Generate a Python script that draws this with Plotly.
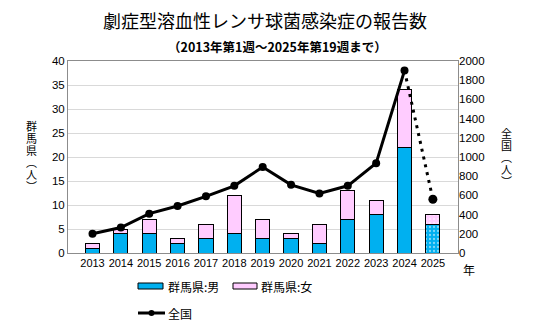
import plotly.graph_objects as go

years = ["2013", "2014", "2015", "2016", "2017", "2018", "2019",
         "2020", "2021", "2022", "2023", "2024", "2025"]
gunma_male = [1, 4, 4, 2, 3, 4, 3, 3, 2, 7, 8, 22, 6]
gunma_female = [1, 1, 3, 1, 3, 8, 4, 1, 4, 6, 3, 12, 2]
national = [200, 265, 410, 490, 590, 700, 895, 710, 620, 700, 935, 1900, 560]

title = "劇症型溶血性レンサ球菌感染症の報告数"
subtitle = "（2013年第1週～2025年第19週まで）"
left_title = ["群", "馬", "県", "︵", "人", "︶"]
right_title = ["全", "国", "︵", "人", "︶"]
legend_labels = ["群馬県:男", "群馬県:女", "全国"]

W, H = 538, 336
L, R, T, B = 68, 458, 61, 253

BLUE = "#00B0F0"
PINK = "#FFCCFF"
JP = "Noto Sans CJK JP"
NUM = "Liberation Sans"

pat = ["" for _ in years[:-1]] + ["."]

fig = go.Figure()
fig.add_trace(go.Bar(
    x=years, y=gunma_male, name=legend_labels[0], yaxis="y",
    marker=dict(color=BLUE, line=dict(color="black", width=1),
                pattern=dict(shape=pat, fgcolor="white", size=4, solidity=0.25)),
    width=0.5, showlegend=False))
fig.add_trace(go.Bar(
    x=years, y=gunma_female, name=legend_labels[1], yaxis="y",
    marker=dict(color=PINK, line=dict(color="black", width=1),
                pattern=dict(shape=pat, fgcolor="white", size=4, solidity=0.25)),
    width=0.5, showlegend=False))
fig.add_trace(go.Scatter(
    x=years[-2:], y=national[-2:], yaxis="y2", mode="lines",
    line=dict(color="black", width=3, dash="3px,5px"), showlegend=False))
fig.add_trace(go.Scatter(
    x=years[:-1], y=national[:-1], yaxis="y2", mode="lines+markers",
    line=dict(color="black", width=3), marker=dict(size=8, color="black"),
    showlegend=False))
fig.add_trace(go.Scatter(
    x=years[-1:], y=national[-1:], yaxis="y2", mode="markers",
    marker=dict(size=9, color="black"), showlegend=False))

fig.update_layout(
    width=W, height=H, barmode="stack",
    margin=dict(l=L, r=W - R, t=T, b=H - B),
    paper_bgcolor="white", plot_bgcolor="white",
    font=dict(family=NUM, size=11, color="black"),
    xaxis=dict(type="category", showline=True, linecolor="#8c8c8c", mirror=True,
               ticks="", tickfont=dict(size=11, family=NUM)),
    yaxis=dict(range=[0, 40], dtick=5, showgrid=True, gridcolor="#d9d9d9",
               showline=True, linecolor="#8c8c8c", mirror=True, zeroline=False,
               ticks="", tickfont=dict(size=11.5, family=NUM)),
    yaxis2=dict(range=[0, 2000], dtick=200, overlaying="y", side="right",
                showgrid=False, zeroline=False, showline=False, ticks="",
                tickfont=dict(size=11.5, family=NUM)),
    showlegend=False,
)

ann = []
pw, ph = R - L, B - T


def px(x):
    return (x - L) / pw


def py(y):
    return (B - y) / ph


def add_text(text, x, y, size, xanchor="center", family=JP):
    ann.append(dict(text=text, x=px(x), y=py(y), xref="paper", yref="paper",
                    xanchor=xanchor, yanchor="middle", showarrow=False,
                    font=dict(family=family, size=size, color="black")))


add_text(title, 265, 20, 18)
add_text("<b>" + subtitle + "</b>", 277, 46, 12.5)
add_text("年", 469, 269, 12)


def vertical(chars, x, y, char_size, line_size):
    inner = "<br>".join(
        '<span style="font-size:%spx">%s</span>' % (char_size, c) for c in chars)
    add_text(inner, x, y, line_size)


vertical(left_title, 31, 156, 11, 9.2)
vertical(right_title, 506, 157, 11, 9.2)

# legend
shapes = []
shapes.append(dict(type="rect", xref="paper", yref="paper", x0=px(138), x1=px(163),
                   y0=py(289), y1=py(283), fillcolor=BLUE, line=dict(color="black", width=1)))
shapes.append(dict(type="rect", xref="paper", yref="paper", x0=px(233), x1=px(257),
                   y0=py(289), y1=py(283), fillcolor=PINK, line=dict(color="black", width=1)))
shapes.append(dict(type="line", xref="paper", yref="paper", x0=px(138), x1=px(165),
                   y0=py(313), y1=py(313), line=dict(color="black", width=3)))
shapes.append(dict(type="circle", xref="paper", yref="paper", x0=px(148.5), x1=px(154.5),
                   y0=py(316), y1=py(310), fillcolor="black", line=dict(color="black", width=0)))
add_text(legend_labels[0], 166, 286, 12, xanchor="left")
add_text(legend_labels[1], 259, 286, 12, xanchor="left")
add_text(legend_labels[2], 166, 313, 12, xanchor="left")

fig.update_layout(annotations=ann, shapes=shapes)

fig.write_html("out.html")
